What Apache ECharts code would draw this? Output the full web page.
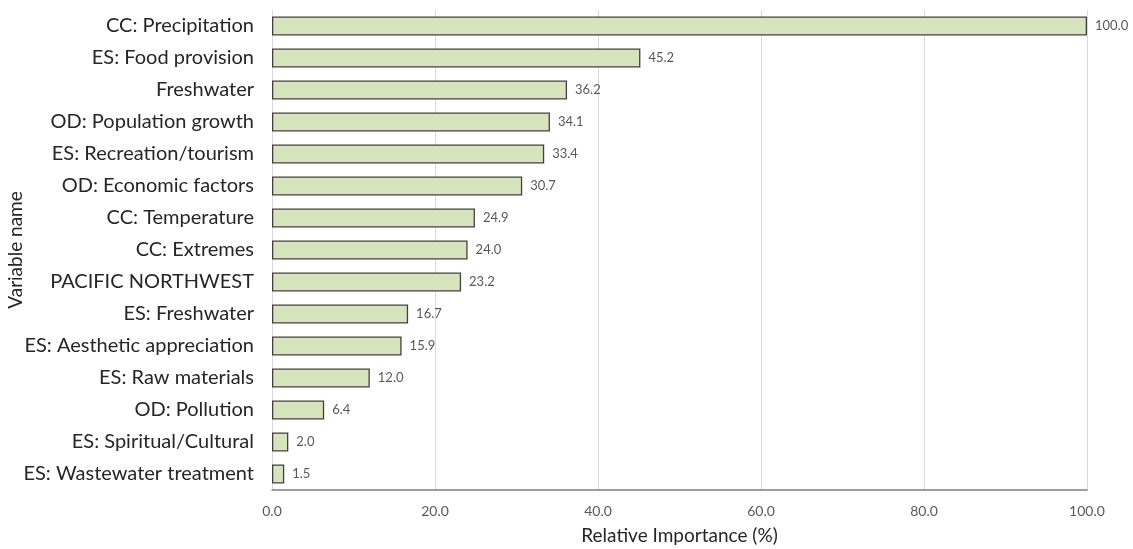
<!DOCTYPE html>
<html><head><meta charset="utf-8">
<script src="https://cdn.jsdelivr.net/npm/echarts@6/dist/echarts.min.js"></script>
<style>html,body{margin:0;padding:0;background:#fff}#c{width:1133px;height:549px}</style>
</head><body><div id="c"></div>
<script>
const categories = ["CC: Precipitation","ES: Food provision","Freshwater","OD: Population growth","ES: Recreation/tourism","OD: Economic factors","CC: Temperature","CC: Extremes","PACIFIC NORTHWEST","ES: Freshwater","ES: Aesthetic appreciation","ES: Raw materials","OD: Pollution","ES: Spiritual/Cultural","ES: Wastewater treatment"];
const values = [100.0,45.2,36.2,34.1,33.4,30.7,24.9,24.0,23.2,16.7,15.9,12.0,6.4,2.0,1.5];
const xTicks = [0,20,40,60,80,100];
const font = "Lato, 'Open Sans', sans-serif";
const chart = echarts.init(document.getElementById('c'), null, {renderer:'canvas'});
chart.setOption({
  animation:false,
  grid:{left:272,right:46,top:10,bottom:59,containLabel:false,outerBoundsMode:'none'},
  xAxis:{type:'value',min:xTicks[0],max:xTicks[xTicks.length-1],interval:20,
    name:'Relative Importance (%)',nameLocation:'middle',nameGap:36,nameMoveOverlap:false,
    nameTextStyle:{fontFamily:font,fontSize:19,color:'#262626'},
    axisLine:{show:true,lineStyle:{color:'#7f7f7f',width:1.5}},axisTick:{show:false},
    axisLabel:{fontFamily:font,fontSize:14,color:'#595959',margin:14,formatter:v=>v.toFixed(1)},
    splitLine:{show:true,lineStyle:{color:'#d9d9d9',width:1}}},
  yAxis:{type:'category',data:categories,inverse:true,
    name:'Variable name',nameLocation:'middle',nameGap:247,nameRotate:90,nameMoveOverlap:false,
    nameTextStyle:{fontFamily:font,fontSize:19,color:'#262626'},
    axisLine:{show:false},axisTick:{show:false},
    axisLabel:{fontFamily:font,fontSize:20,color:'#262626',margin:18}},
  series:[{type:'bar',data:values,barWidth:19,
    itemStyle:{color:'#d7e4bd',borderColor:'#404040',borderWidth:1.3},
    label:{show:true,position:'right',distance:8,fontFamily:font,fontSize:13,color:'#595959',formatter:p=>p.value.toFixed(1)}
  }]
});
</script></body></html>
